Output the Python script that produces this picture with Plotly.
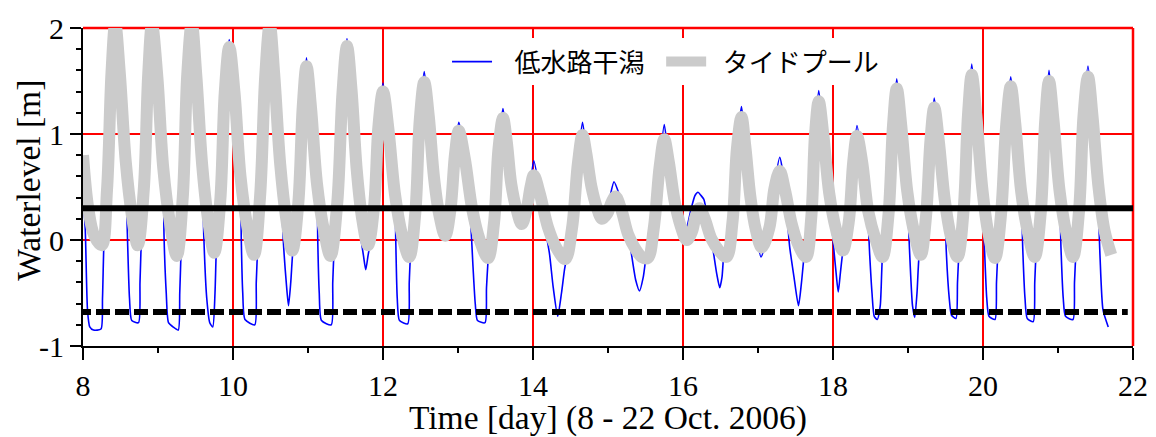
import plotly.graph_objects as go

# Water level in the low-water channel flat, day of October 2006
t_channel = [
    8.00, 8.03, 8.06, 8.09, 8.14, 8.24, 8.26, 8.28,
    8.32, 8.38, 8.43, 8.49, 8.57, 8.59, 8.62, 8.65, 8.74, 8.76, 8.78,
    8.81, 8.87, 8.92, 8.99, 9.07, 9.08, 9.11, 9.14, 9.20, 9.27, 9.29, 9.31,
    9.33, 9.39, 9.45, 9.51, 9.59, 9.61, 9.65, 9.69, 9.73, 9.76, 9.78,
    9.83, 9.89, 9.95, 10.02, 10.10, 10.11, 10.13, 10.16, 10.29, 10.31, 10.33,
    10.36, 10.43, 10.49, 10.55, 10.63, 10.67, 10.71, 10.74, 10.77, 10.80,
    10.87, 10.93, 10.98, 11.04, 11.12, 11.13, 11.15, 11.18, 11.31, 11.33, 11.35,
    11.39, 11.46, 11.52, 11.58, 11.65, 11.70, 11.74, 11.77, 11.80, 11.83,
    11.88, 11.94, 12.00, 12.07, 12.16, 12.17, 12.19, 12.22, 12.33, 12.35, 12.37,
    12.43, 12.49, 12.55, 12.61, 12.68, 12.75, 12.83,
    12.90, 12.96, 13.01, 13.09, 13.17, 13.20, 13.23, 13.26, 13.36, 13.38, 13.41,
    13.48, 13.54, 13.60, 13.65, 13.71, 13.78, 13.85,
    13.91, 13.97, 14.01, 14.09, 14.17, 14.22, 14.27, 14.33, 14.38, 14.42, 14.46,
    14.52, 14.60, 14.66, 14.71, 14.78, 14.85, 14.92,
    14.99, 15.03, 15.08, 15.14, 15.20, 15.27, 15.31, 15.37, 15.42, 15.47, 15.52,
    15.61, 15.69, 15.75, 15.81, 15.89, 15.97, 16.03,
    16.11, 16.16, 16.20, 16.24, 16.28, 16.34, 16.40, 16.45, 16.49, 16.52, 16.55,
    16.66, 16.72, 16.78, 16.83, 16.90, 16.97, 17.04,
    17.15, 17.22, 17.29, 17.36, 17.42, 17.48, 17.54, 17.58, 17.62,
    17.71, 17.76, 17.81, 17.87, 17.95, 18.01, 18.04, 18.07, 18.10, 18.14,
    18.21, 18.27, 18.32, 18.39, 18.46, 18.49, 18.52, 18.55, 18.59, 18.63, 18.66,
    18.74, 18.80, 18.85, 18.91, 18.99, 19.02, 19.06, 19.09, 19.12, 19.15,
    19.24, 19.30, 19.35, 19.41, 19.49, 19.51, 19.55, 19.58, 19.64, 19.66, 19.68,
    19.74, 19.80, 19.85, 19.91, 19.99, 20.02, 20.05, 20.08, 20.16, 20.18, 20.20,
    20.24, 20.31, 20.37, 20.43, 20.51, 20.53, 20.56, 20.59, 20.67, 20.69, 20.71,
    20.77, 20.83, 20.88, 20.94, 21.02, 21.04, 21.07, 21.10, 21.20, 21.22, 21.24,
    21.28, 21.34, 21.40, 21.46, 21.53, 21.56, 21.60, 21.67,
]
h_channel = [
    0.45, 0.10, -0.66, -0.82, -0.85, -0.84, -0.55, 0.00,
    0.47, 1.60, 2.12, 1.60, 0.74, 0.10, -0.55, -0.76, -0.78, -0.40, 0.05,
    0.47, 1.59, 2.10, 1.57, 0.68, 0.05, -0.50, -0.78, -0.82, -0.85, -0.50, -0.05,
    0.40, 1.58, 2.12, 1.58, 0.70, 0.05, -0.55, -0.78, -0.82, -0.50, -0.05,
    0.37, 1.41, 1.89, 1.41, 0.60, 0.02, -0.50, -0.75, -0.80, -0.40, -0.05,
    0.40, 1.57, 2.10, 1.58, 0.71, 0.00, -0.40, -0.62, -0.40, -0.08,
    0.34, 1.28, 1.72, 1.27, 0.53, 0.00, -0.50, -0.76, -0.80, -0.40, -0.05,
    0.35, 1.41, 1.90, 1.44, 0.66, 0.05, -0.15, -0.28, -0.15, -0.02,
    0.31, 1.10, 1.48, 1.08, 0.43, 0.00, -0.55, -0.76, -0.79, -0.40, -0.10,
    0.25, 1.15, 1.59, 1.19, 0.59, 0.24, 0.06,
    0.29, 0.83, 1.11, 0.79, 0.15, -0.25, -0.60, -0.76, -0.78, -0.45, -0.12,
    0.16, 0.88, 1.24, 0.95, 0.53, 0.29, 0.17,
    0.28, 0.55, 0.75, 0.46, 0.08, -0.13, -0.45, -0.72, -0.50, -0.28, -0.12,
    0.11, 0.75, 1.11, 0.84, 0.50, 0.31, 0.22,
    0.28, 0.42, 0.55, 0.45, 0.30, 0.05, -0.12, -0.38, -0.48, -0.35, -0.10,
    0.11, 0.72, 1.09, 0.76, 0.38, 0.15, 0.08,
    0.30, 0.42, 0.45, 0.42, 0.38, 0.15, -0.09, -0.32, -0.45, -0.35, -0.10,
    0.17, 0.89, 1.26, 0.91, 0.40, 0.08, -0.16,
    0.11, 0.52, 0.78, 0.49, -0.05, -0.35, -0.62, -0.40, -0.12,
    0.21, 1.01, 1.41, 1.02, 0.44, -0.08, -0.30, -0.49, -0.30, -0.06,
    0.17, 0.76, 1.08, 0.75, 0.28, -0.15, -0.50, -0.72, -0.75, -0.62, -0.15,
    0.24, 1.10, 1.52, 1.10, 0.46, -0.09, -0.62, -0.73, -0.50, -0.13,
    0.22, 0.96, 1.34, 0.96, 0.38, -0.10, -0.55, -0.71, -0.74, -0.40, -0.12,
    0.27, 1.20, 1.66, 1.20, 0.49, -0.08, -0.55, -0.72, -0.75, -0.40, -0.10,
    0.24, 1.11, 1.54, 1.12, 0.45, -0.08, -0.55, -0.74, -0.77, -0.40, -0.10,
    0.26, 1.15, 1.60, 1.15, 0.47, -0.08, -0.55, -0.72, -0.75, -0.40, -0.10,
    0.27, 1.19, 1.64, 1.19, 0.45, -0.15, -0.66, -0.82,
]

# Water level inside the tide pool
t_pool = [
    8.00, 8.07, 8.15, 8.25,
    8.32, 8.38, 8.43, 8.49, 8.57, 8.65, 8.73,
    8.81, 8.87, 8.92, 8.99, 9.07, 9.16, 9.25,
    9.33, 9.39, 9.45, 9.51, 9.59, 9.67, 9.75,
    9.83, 9.89, 9.95, 10.02, 10.10, 10.19, 10.28,
    10.36, 10.43, 10.49, 10.55, 10.63, 10.71, 10.79,
    10.87, 10.93, 10.98, 11.04, 11.12, 11.21, 11.30,
    11.39, 11.46, 11.52, 11.58, 11.65, 11.72, 11.80,
    11.88, 11.94, 12.00, 12.07, 12.16, 12.25, 12.35,
    12.43, 12.49, 12.55, 12.61, 12.68, 12.75, 12.83,
    12.90, 12.96, 13.01, 13.09, 13.19, 13.29, 13.40,
    13.48, 13.54, 13.60, 13.65, 13.71, 13.78, 13.85,
    13.91, 13.97, 14.01, 14.09, 14.20, 14.31, 14.43,
    14.52, 14.60, 14.66, 14.71, 14.78, 14.85, 14.92,
    14.99, 15.05, 15.10, 15.18, 15.27, 15.37, 15.45, 15.53,
    15.61, 15.69, 15.75, 15.81, 15.89, 15.97, 16.05,
    16.12, 16.17, 16.22, 16.29, 16.38, 16.48, 16.58,
    16.66, 16.72, 16.78, 16.83, 16.90, 16.97, 17.05,
    17.15, 17.22, 17.29, 17.36, 17.45, 17.54, 17.64,
    17.71, 17.76, 17.81, 17.87, 17.95, 18.04, 18.13,
    18.21, 18.27, 18.32, 18.39, 18.47, 18.57, 18.66,
    18.74, 18.80, 18.85, 18.91, 18.99, 19.08, 19.17,
    19.24, 19.30, 19.35, 19.41, 19.49, 19.57, 19.66,
    19.74, 19.80, 19.85, 19.91, 19.99, 20.07, 20.16,
    20.24, 20.31, 20.37, 20.43, 20.51, 20.60, 20.69,
    20.77, 20.83, 20.88, 20.94, 21.02, 21.11, 21.20,
    21.28, 21.34, 21.40, 21.46, 21.54, 21.62, 21.71,
]
h_pool = [
    0.80, 0.30, 0.04, -0.05,
    0.47, 1.58, 2.04, 1.58, 0.74, 0.24, -0.05,
    0.47, 1.57, 2.03, 1.55, 0.68, 0.16, -0.15,
    0.40, 1.56, 2.04, 1.56, 0.70, 0.18, -0.12,
    0.37, 1.39, 1.82, 1.39, 0.60, 0.13, -0.14,
    0.40, 1.55, 2.03, 1.56, 0.71, 0.20, -0.10,
    0.34, 1.26, 1.64, 1.25, 0.53, 0.10, -0.15,
    0.35, 1.39, 1.83, 1.42, 0.66, 0.21, -0.05,
    0.31, 1.08, 1.40, 1.06, 0.43, 0.06, -0.16,
    0.25, 1.13, 1.49, 1.17, 0.59, 0.24, 0.04,
    0.29, 0.81, 1.03, 0.77, 0.29, 0.00, -0.17,
    0.16, 0.86, 1.15, 0.93, 0.53, 0.29, 0.15,
    0.27, 0.51, 0.61, 0.44, 0.12, -0.07, -0.18,
    0.11, 0.73, 0.99, 0.82, 0.50, 0.31, 0.20,
    0.25, 0.36, 0.41, 0.28, 0.05, -0.09, -0.16, -0.17,
    0.11, 0.70, 0.95, 0.74, 0.36, 0.13, 0.00,
    0.08, 0.23, 0.30, 0.20, 0.01, -0.10, -0.16,
    0.17, 0.87, 1.16, 0.89, 0.40, 0.10, -0.07,
    0.11, 0.49, 0.65, 0.47, 0.15, -0.05, -0.16,
    0.21, 0.99, 1.31, 1.00, 0.44, 0.10, -0.10,
    0.17, 0.74, 0.98, 0.73, 0.27, 0.00, -0.16,
    0.24, 1.08, 1.43, 1.08, 0.46, 0.08, -0.14,
    0.22, 0.94, 1.25, 0.94, 0.38, 0.04, -0.16,
    0.27, 1.18, 1.56, 1.18, 0.49, 0.07, -0.17,
    0.24, 1.09, 1.45, 1.10, 0.45, 0.07, -0.16,
    0.26, 1.13, 1.50, 1.13, 0.47, 0.07, -0.16,
    0.27, 1.17, 1.54, 1.17, 0.50, 0.09, -0.14,
]

# Reference levels
level_solid = 0.30
level_dashed = -0.68
solid_x = [8.0, 22.0]
dashed_x = [7.92, 21.93]

# Axis ticks
x_ticks = [8, 10, 12, 14, 16, 18, 20, 22]
y_ticks = [-1, 0, 1, 2]
y_ticktext = ["-1", "0", "1", "2"]

serif = "Liberation Serif, Times New Roman, serif"
gothic = "Noto Sans CJK JP, sans-serif"
NB = "\u00a0"

fig = go.Figure()
fig.add_trace(go.Scatter(
    x=t_channel, y=h_channel, mode="lines", name=NB * 3 + "低水路干潟" + NB * 2,
    line=dict(color="#0000FF", width=1.6, shape="spline", smoothing=0.6),
))
fig.add_trace(go.Scatter(
    x=t_pool, y=h_pool, mode="lines", name=NB * 2 + "タイドプール",
    line=dict(color="#CBCBCB", width=12, shape="spline", smoothing=1.0),
))
fig.add_trace(go.Scatter(
    x=solid_x, y=[level_solid, level_solid], mode="lines", showlegend=False,
    line=dict(color="black", width=6),
))
fig.add_trace(go.Scatter(
    x=dashed_x, y=[level_dashed, level_dashed], mode="lines", showlegend=False,
    line=dict(color="black", width=6, dash="14px,5px"),
))

# red frame on the top and right
fig.add_shape(type="line", xref="paper", yref="paper", x0=0, x1=1, y0=1, y1=1,
              line=dict(color="#FF0000", width=2.5), layer="below")
fig.add_shape(type="line", xref="paper", yref="paper", x0=1, x1=1, y0=0, y1=1,
              line=dict(color="#FF0000", width=2.5), layer="below")

# vertical y-axis title
fig.add_annotation(
    text="Waterlevel [m]", xref="paper", yref="paper", x=-0.0514, y=0.52,
    xanchor="center", yanchor="middle", textangle=-90, showarrow=False,
    font=dict(family=serif, size=33.5, color="black"),
)

fig.update_layout(
    width=1156, height=437,
    margin=dict(l=83, r=23, t=28, b=91),
    paper_bgcolor="white", plot_bgcolor="white",
    showlegend=True,
    legend=dict(
        orientation="h", x=0.3467, y=0.968, xanchor="left", yanchor="top",
        bgcolor="white", borderwidth=0,
        font=dict(family=gothic, size=26, color="black"),
        itemwidth=40,
    ),
    font=dict(family=serif, color="black"),
)
fig.update_xaxes(
    range=[8, 22], tickvals=x_ticks,
    showgrid=True, gridcolor="#FF0000", gridwidth=2,
    zeroline=False,
    showline=True, linecolor="black", linewidth=2, mirror=False,
    ticks="outside", ticklen=12, tickwidth=1.5, tickcolor="black",
    minor=dict(dtick=1, tick0=8, ticks="outside", ticklen=5, tickwidth=1.5,
               tickcolor="black", showgrid=False),
    tickfont=dict(family=serif, size=30, color="black"),
    title=dict(text="Time [day] (8 - 22 Oct. 2006)",
               font=dict(family=serif, size=33.5, color="black"), standoff=2),
    automargin=False,
)
fig.update_yaxes(
    range=[-1, 2], tickvals=y_ticks, ticktext=y_ticktext,
    showgrid=True, gridcolor="#FF0000", gridwidth=2,
    zeroline=False,
    showline=True, linecolor="black", linewidth=2, mirror=False,
    ticks="outside", ticklen=11, tickwidth=1.5, tickcolor="black",
    minor=dict(dtick=0.2, tick0=-1, ticks="outside", ticklen=5, tickwidth=1.5,
               tickcolor="black", showgrid=False),
    tickfont=dict(family=serif, size=30, color="black"),
    automargin=False,
)

fig.write_html("out.html")
